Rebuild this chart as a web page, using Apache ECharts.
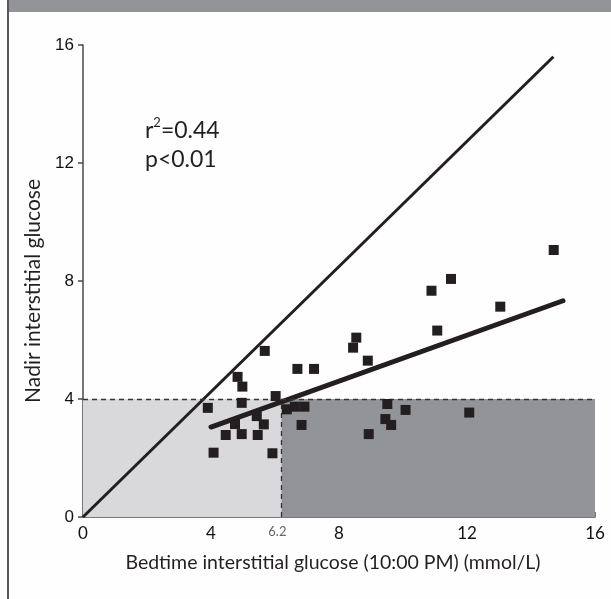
<!DOCTYPE html>
<html>
<head>
<meta charset="utf-8">
<script src="https://cdn.jsdelivr.net/npm/echarts@6/dist/echarts.min.js"></script>
<style>
html,body{margin:0;padding:0;background:#fefefe;}
#chart{width:611px;height:599px;}
</style>
</head>
<body>
<div id="chart"></div>
<script>
// Data (x: bedtime glucose, y: nadir glucose, mmol/L)
const bedtime = [5.68,4.83,4.98,3.90,4.96,6.02,5.43,4.75,5.65,4.46,4.96,5.46,4.08,5.92,6.37,6.62,6.92,6.83,6.70,7.22,8.54,8.44,8.90,9.51,10.08,9.45,9.63,8.93,14.71,11.50,10.89,13.04,11.07,12.07];
const nadir   = [5.63,4.75,4.42,3.70,3.87,4.10,3.42,3.15,3.14,2.78,2.81,2.78,2.18,2.16,3.65,3.74,3.74,3.12,5.02,5.02,6.08,5.74,5.30,3.83,3.63,3.32,3.12,2.81,9.05,8.07,7.67,7.13,6.32,3.54];
const identityX = [0, 14.7];
const identityY = [0, 15.6];
const regressionX = [4.0, 15.0];
const regressionY = [3.05, 7.33];
const xTickLabels = [0, 4, 6.2, 8, 12, 16];
const xTicks = [4, 8, 12, 16];
const yTicks = [0, 4, 8, 12, 16];
const threshold = 4;
const bedtimeCut = 6.2;
const axisMax = 16;

const points = bedtime.map((x, i) => [x, nadir[i]]);
const ink = '#231f20';
const axisColor = '#4a4a4a';

const chart = echarts.init(document.getElementById('chart'));
chart.setOption({
  backgroundColor: '#fefefe',
  animation: false,
  grid: { left: 83, right: 16, top: 45, bottom: 82 },
  xAxis: {
    type: 'value', min: 0, max: axisMax,
    name: 'Bedtime interstitial glucose (10:00 PM) (mmol/L)',
    nameLocation: 'middle', nameGap: 36,
    nameTextStyle: { fontFamily: 'Lato', fontSize: 19.5, color: '#231f20', padding: [0, 12, 0, 0] },
    axisLine: { show: true, lineStyle: { color: axisColor, width: 1.5 } },
    axisTick: { show: true, inside: true, length: 5, customValues: xTicks, lineStyle: { color: axisColor, width: 1.5 } },
    axisLabel: {
      customValues: xTickLabels, margin: 8,
      fontFamily: 'Lato', fontSize: 17, color: '#111',
      formatter: v => (Math.abs(v - bedtimeCut) < 1e-6 ? '{s|6.2}' : String(v)),
      rich: { s: { fontFamily: 'Lato', fontSize: 13, color: '#666', padding: [0, 8, 0, 0] } }
    },
    splitLine: { show: false }
  },
  yAxis: {
    type: 'value', min: 0, max: axisMax, interval: 4,
    name: 'Nadir interstitial glucose',
    nameLocation: 'middle', nameGap: 35,
    nameTextStyle: { fontFamily: 'Lato', fontSize: 21, color: '#231f20', padding: [0, 20, 0, 0] },
    axisLine: { show: true, lineStyle: { color: axisColor, width: 1.5 } },
    axisTick: { show: true, inside: false, length: 5, lineStyle: { color: axisColor, width: 1.5 } },
    axisLabel: { margin: 9, fontFamily: 'Liberation Sans', fontSize: 17, color: '#111' },
    splitLine: { show: false }
  },
  graphic: [
    { type: 'rect', left: 9, top: 0, shape: { width: 602, height: 12 }, style: { fill: '#939498' }, silent: true },
    { type: 'rect', left: 7, top: 0, shape: { width: 2, height: 599 }, style: { fill: '#58595b' }, silent: true },
    { type: 'text', left: 145, top: 116, style: {
        text: '{a|r}{sup|2}{a|=0.44}\n{a|p<0.01}',
        rich: {
          a: { fontFamily: 'Lato', fontSize: 23, fill: '#231f20', lineHeight: 29 },
          sup: { fontFamily: 'Lato', fontSize: 13, fill: '#231f20', verticalAlign: 'top', lineHeight: 29, padding: [0, 0, 10, 0] }
        }
      } }
  ],
  series: [
    {
      type: 'line', name: 'zones', data: [], silent: true,
      markArea: {
        silent: true,
        data: [
          [{ coord: [0, 0], itemStyle: { color: '#d9d9db', opacity: 1 } }, { coord: [bedtimeCut, threshold] }],
          [{ coord: [bedtimeCut, 0], itemStyle: { color: '#939498', opacity: 1 } }, { coord: [axisMax, threshold] }]
        ]
      },
      markLine: {
        silent: true, symbol: 'none', label: { show: false },
        lineStyle: { color: '#333', type: [5, 4], width: 1.3, opacity: 1 },
        data: [
          [{ coord: [0, threshold] }, { coord: [axisMax, threshold] }],
          [{ coord: [bedtimeCut, 0] }, { coord: [bedtimeCut, threshold] }]
        ]
      }
    },
    {
      type: 'line', name: 'identity', showSymbol: false, silent: true,
      data: identityX.map((x, i) => [x, identityY[i]]),
      lineStyle: { color: ink, width: 3 }
    },
    {
      type: 'line', name: 'regression', showSymbol: false, silent: true,
      data: regressionX.map((x, i) => [x, regressionY[i]]),
      lineStyle: { color: ink, width: 5, cap: 'round' }
    },
    {
      type: 'scatter', name: 'patients', symbol: 'rect', symbolSize: 10,
      data: points, itemStyle: { color: ink, opacity: 1 }, z: 5
    }
  ]
});
</script>
</body>
</html>
